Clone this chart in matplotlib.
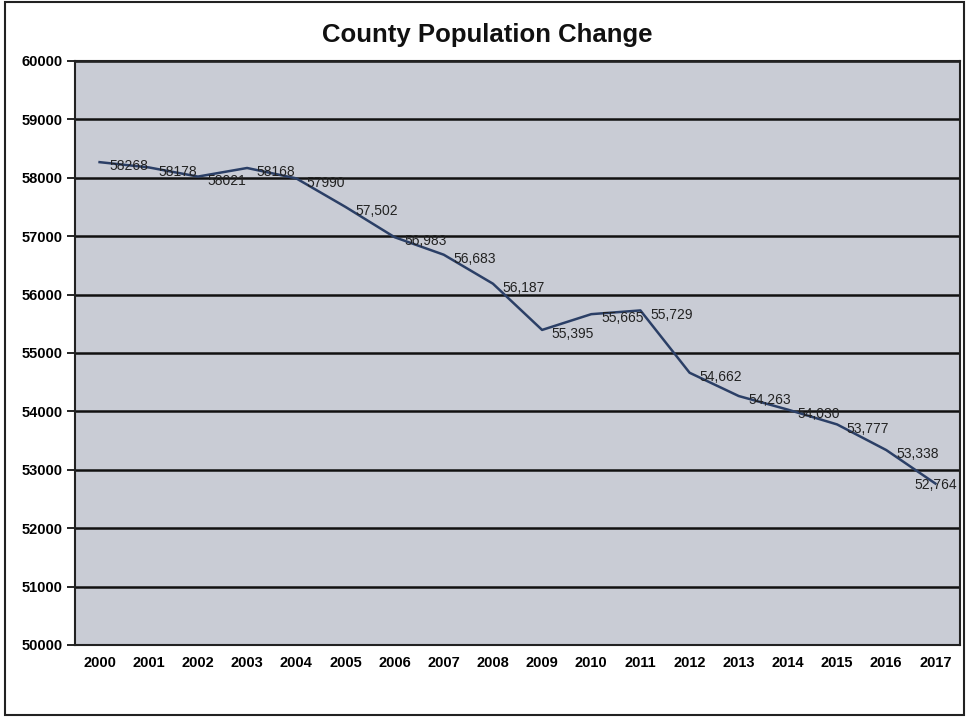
import matplotlib
matplotlib.use("Agg")
import matplotlib.pyplot as plt
from matplotlib.patches import Rectangle

plt.rcParams['font.family'] = ['Liberation Sans', 'DejaVu Sans']

# data
years = ['2000', '2001', '2002', '2003', '2004', '2005', '2006', '2007', '2008',
         '2009', '2010', '2011', '2012', '2013', '2014', '2015', '2016', '2017']
population = [58268, 58178, 58021, 58168, 57990, 57502, 56983, 56683, 56187,
              55395, 55665, 55729, 54662, 54263, 54030, 53777, 53338, 52764]
point_labels = ['58268', '58178', '58021', '58168', '57990', '57,502', '56,983',
                '56,683', '56,187', '55,395', '55,665', '55,729', '54,662',
                '54,263', '54,030', '53,777', '53,338', '52,764']
yticks = list(range(50000, 60001, 1000))

fig = plt.figure(figsize=(9.69, 7.19), dpi=100)
ax = fig.add_axes([75 / 969, 1 - 645 / 719, 885 / 969, 584 / 719])

# outer frame round the whole chart
fig.patches.append(Rectangle((5 / 969, 4 / 719), 959 / 969, 713 / 719,
                             transform=fig.transFigure, fill=False,
                             edgecolor='#222222', linewidth=1.5))

ax.set_facecolor('#c9ccd5')
x = list(range(len(years)))
ax.plot(x, population, color='#2b3f66', linewidth=1.8, zorder=3)

for i, (v, lab) in enumerate(zip(population, point_labels)):
    if i == len(years) - 1:
        ax.annotate(lab, (i, v), xytext=(0, -1), textcoords='offset points',
                    ha='center', va='center', fontsize=10, color='#222222', zorder=4)
    else:
        ax.annotate(lab, (i, v), xytext=(7, -3), textcoords='offset points',
                    ha='left', va='center', fontsize=10, color='#222222', zorder=4)

ax.set_xlim(-0.5, len(years) - 0.5)
ax.set_ylim(50000, 60000)
ax.set_xticks(x)
ax.set_xticklabels(years, fontweight='bold', fontsize=10.5)
ax.set_yticks(yticks)
ax.set_yticklabels([str(t) for t in yticks], fontweight='bold', fontsize=10.5)
ax.tick_params(axis='x', length=0, pad=8)
ax.tick_params(axis='y', length=6, width=1.2, pad=3)
ax.grid(axis='y', color='#111111', linewidth=1.8, zorder=1)
ax.set_axisbelow(True)
for side in ['left', 'bottom', 'top', 'right']:
    ax.spines[side].set_color('#222222')
    ax.spines[side].set_linewidth(1.5)

fig.text(487 / 969, 1 - 35 / 719, 'County Population Change', ha='center',
         va='center', fontsize=18.5, fontweight='bold', color='#111111')

fig.savefig('out.png', dpi=100)
